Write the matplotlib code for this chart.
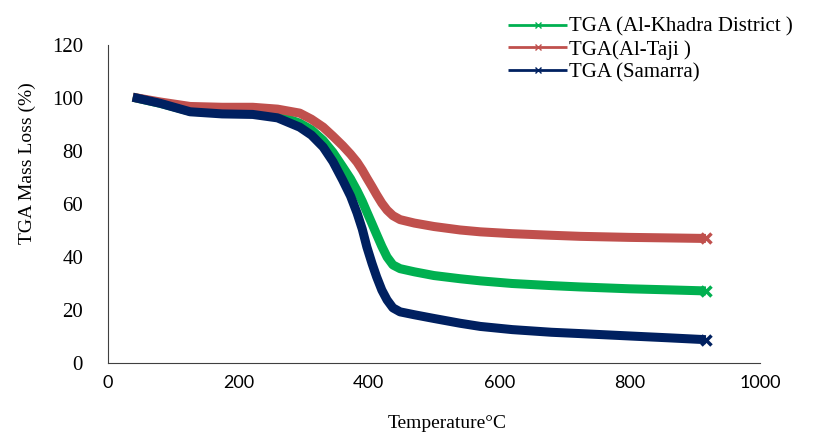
import matplotlib.pyplot as plt

# Nhiệt độ (°C) và khối lượng còn lại (%)
temp = [38, 80, 126, 175, 222, 260, 294, 312, 330, 345, 360, 372, 382, 390, 397,
        405, 412, 420, 428, 437, 448, 470, 500, 540, 571, 620, 680, 724, 800, 860, 917]
khadra = [100.3, 98, 95, 94.5, 94.3, 93.5, 90.5, 88, 84, 79.5, 74, 69.5, 65, 61, 57,
          52.5, 48.5, 44, 40, 37, 35.6, 34.4, 33, 31.8, 31, 30, 29.2, 28.7, 28, 27.6, 27.2]
taji = [100.3, 98.5, 96.8, 96.5, 96.5, 95.8, 94.3, 92, 89, 85.6, 82, 78.8, 75.8, 72.8, 69.8,
        66.5, 63.5, 60.3, 57.7, 55.6, 54.1, 52.8, 51.5, 50.2, 49.5, 48.8, 48.2, 47.8, 47.4, 47.2, 47]
samarra = [100.3, 98, 94.8, 94, 93.8, 92.5, 89, 86, 81.5, 76, 69, 63, 56.6, 50.5, 43.8,
           37.5, 32.5, 27.5, 23.8, 20.8, 19.3, 18.2, 16.8, 15, 13.8, 12.6, 11.6, 11.1, 10.2, 9.5, 8.8]

labels = ['TGA (Al-Khadra District )', 'TGA(Al-Taji )', 'TGA (Samarra)']
colors = ['#00B050', '#C0504D', '#002060']

plt.rcParams['font.family'] = ['Liberation Serif', 'DejaVu Sans']

fig = plt.figure(figsize=(8.21, 4.38), dpi=100)
ax = fig.add_axes([108 / 821, 1 - 363 / 438, 652 / 821, 318 / 438])

for y, lab, c in zip([khadra, taji, samarra], labels, colors):
    ax.plot(temp, y, color=c, lw=6.5, label=lab, marker='x', markevery=[-1],
            markersize=7, mew=2.5, solid_capstyle='butt', solid_joinstyle='round')

ax.set_xlim(0, 1000)
ax.set_ylim(0, 120)
ax.set_xticks(range(0, 1001, 200))
ax.set_yticks(range(0, 121, 20))
ax.spines['top'].set_visible(False)
ax.spines['right'].set_visible(False)
ax.spines['left'].set_color('#404040')
ax.spines['bottom'].set_color('#404040')
ax.tick_params(axis='y', length=0, pad=18, labelsize=15)
ax.tick_params(axis='x', length=0, pad=9, labelsize=13)
for t in ax.get_xticklabels():
    t.set_family('Lato')

ax.set_xlabel('Temperature°C', fontsize=14)
ax.set_ylabel('TGA Mass Loss (%)', fontsize=14)
ax.xaxis.set_label_coords(0.52, -0.165)
ax.yaxis.set_label_coords(-0.11, 0.63)

leg = fig.legend(loc='upper left', bbox_to_anchor=(500 / 821, 1 - 9 / 438),
                 frameon=False, fontsize=15, handlelength=2.8, handletextpad=0.1,
                 labelspacing=0.15, borderaxespad=0)
for h in leg.get_lines():
    h.set_linewidth(2)
    h.set_markersize(4)
    h.set_markeredgewidth(1)

fig.savefig('out.png', dpi=100)
